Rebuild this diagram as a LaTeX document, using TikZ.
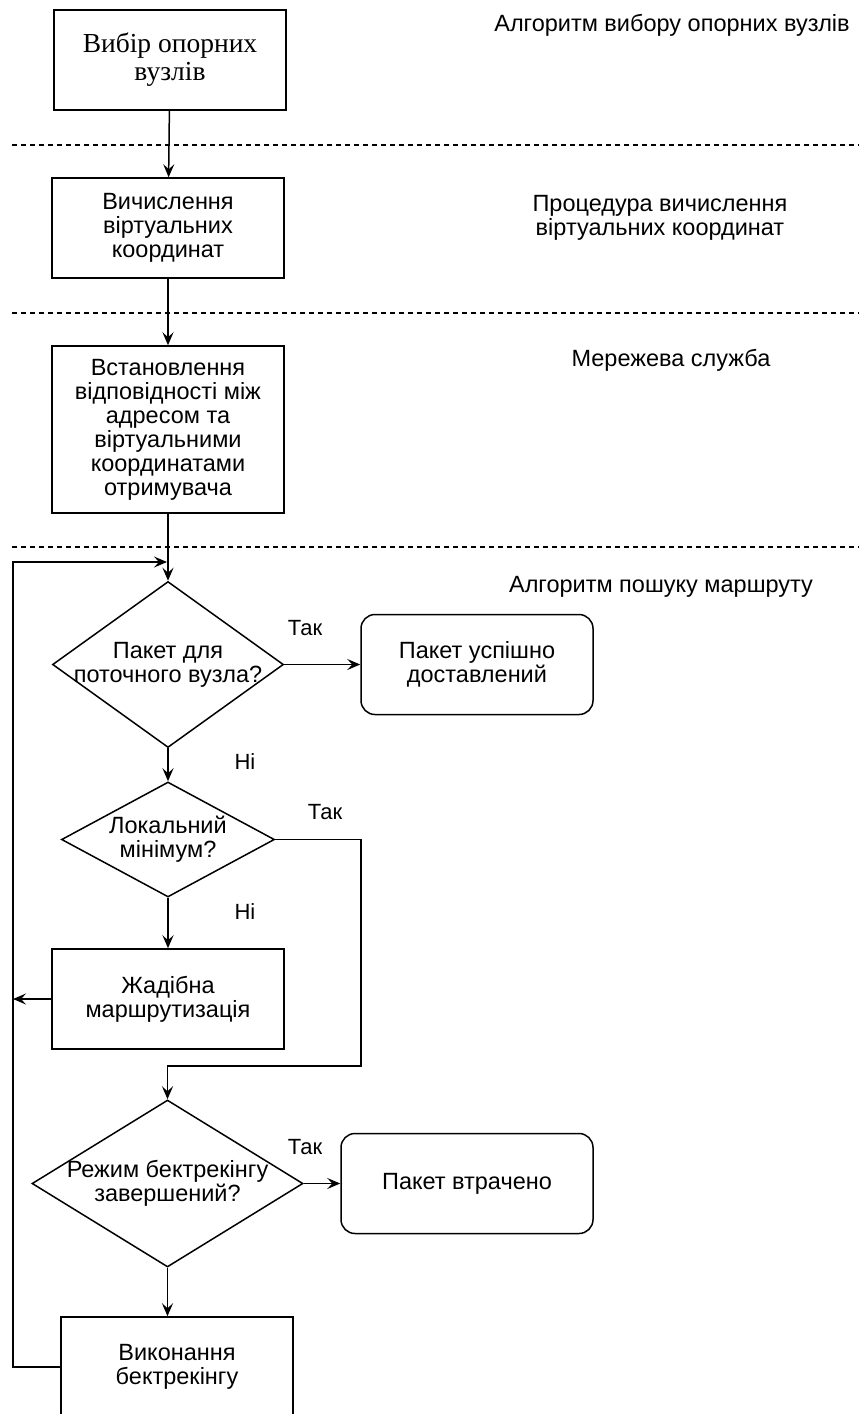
\documentclass[tikz,border=0pt]{standalone}
\usepackage{fontspec}
\setmainfont{Liberation Sans}
\newfontfamily\serifbox{Liberation Serif}
\usepackage{tikz}
\usetikzlibrary{shapes.geometric,arrows.meta}
\tikzset{
  procbox/.style={draw, line width=1.5pt, minimum width=232pt, minimum height=100pt, align=center, inner sep=0pt, font=\fontsize{23.5}{24}\selectfont},
  endbox/.style={procbox, rounded corners=14pt},
  decision/.style={draw, diamond, line width=1.5pt, inner sep=0pt},
  dtext/.style={align=center, inner sep=0pt, font=\fontsize{23.5}{24}\selectfont},
  note/.style={align=center, inner sep=0pt, font=\fontsize{23.5}{24}\selectfont},
  lbl/.style={inner sep=0pt, font=\fontsize{22}{24}\selectfont},
  arr/.style={line width=1.5pt, -{Stealth[length=13pt, width=11pt, inset=5pt]}},
  sep/.style={line width=1.2pt, dash pattern=on 5pt off 4pt}
}
\begin{document}
\begin{tikzpicture}[x=1pt, y=-1pt]%
\useasboundingbox (0,0) rectangle (859,1414);%
% separators between the stages
\draw[sep] (12,145) -- (859,145);%
\draw[sep] (12,313) -- (859,313);%
\draw[sep] (12,547) -- (859,547);%
% stage names
\node[note] (n1) at (672,25) {Алгоритм вибору опорних вузлів};%
\node[note] (n2) at (660,218) {Процедура вичислення\\віртуальних координат};%
\node[note] (n3) at (671,360) {Мережева служба};%
\node[note] (n4) at (661,587) {Алгоритм пошуку маршруту};%
% blocks
\node[procbox, font=\serifbox\fontsize{27.5}{28}\selectfont] (b1) at (170,60) {Вибір опорних\\вузлів};%
\node[procbox] (b2) at (168,228) {Вичислення\\віртуальних\\координат};%
\node[procbox, minimum height=167pt] (b3) at (168,429.5) {Встановлення\\відповідності між\\адресом та\\віртуальними\\координатами\\отримувача};%
\node[decision, minimum width=231pt, minimum height=166pt] (d1) at (168,664.5) {};%
\node[dtext] (d1t) at (d1) {Пакет для\\поточного вузла?};%
\node[endbox] (r1) at (477,664.5) {Пакет успішно\\доставлений};%
\node[decision, minimum width=213pt, minimum height=115pt] (d2) at (168,839.5) {};%
\node[dtext] (d2t) at (d2) {Локальний\\мінімум?};%
\node[procbox] (g) at (168,999) {Жадібна\\маршрутизація};%
\node[decision, minimum width=271pt, minimum height=167pt] (d3) at (167.5,1183.5) {};%
\node[dtext] (d3t) at (d3) {Режим бектрекінгу\\завершений?};%
\node[endbox, minimum width=252pt] (r2) at (467,1183.5) {Пакет втрачено};%
\node[procbox] (bt) at (177,1367) {Виконання\\бектрекінгу};%
% labels on the branches
\node[lbl] (y1) at (305,628) {Так};%
\node[lbl] (no1) at (245,762) {Ні};%
\node[lbl] (y2) at (325,812) {Так};%
\node[lbl] (no2) at (245,912) {Ні};%
\node[lbl] (y3) at (305,1147) {Так};%
% helper points
\coordinate (rt) at (361,1066);%
\coordinate (lt) at (13,562);%
\coordinate (lj) at (167,562);%
% connectors
\draw[arr] (b1) -- (b2);%
\draw[arr] (b2) -- (b3);%
\draw[arr] (b3) -- (d1.north);%
\draw[arr] (d1.east) -- (r1.west);%
\draw[arr] (d1.south) -- (d2.north);%
\draw[arr] (d2.south) -- (g.north -| d2.south);%
\draw[arr] (d2.east) -| (rt) -| (d3.north);%
\draw[arr] (g.west) -- (g.west -| lt);%
\draw[arr] (d3.east) -- (r2.west);%
\draw[arr] (d3.south) -- (bt.north -| d3.south);%
\draw[arr] (bt.west) -| (lt) -- (lj);%
\end{tikzpicture}
\end{document}
